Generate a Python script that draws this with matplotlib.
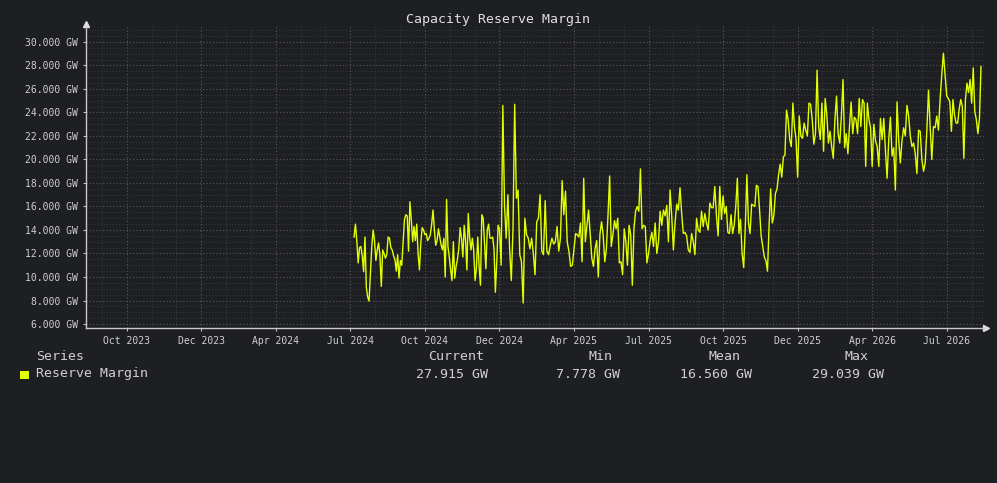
import numpy as np
import matplotlib
matplotlib.use('Agg')
import matplotlib.pyplot as plt
from matplotlib.patches import Rectangle
from matplotlib.ticker import MultipleLocator, FuncFormatter

plt.rcParams['font.family'] = ['DejaVu Sans Mono']

title = 'Capacity Reserve Margin'
series_name = 'Reserve Margin'
tick_labels = ['Oct 2023', 'Dec 2023', 'Apr 2024', 'Jul 2024', 'Oct 2024', 'Dec 2024',
               'Apr 2025', 'Jul 2025', 'Oct 2025', 'Dec 2025', 'Apr 2026', 'Jul 2026']

# readings (GW), grouped by the tick interval they fall in
jul24 = [13.4, 14.5, 13.1, 11.2, 12.5, 12.6, 11.8, 10.45, 13.4, 9.1, 8.3, 7.95, 10.3, 12.6,
         14.0, 13.1, 11.4, 12.3, 12.9, 11.8, 9.2, 12.3, 12.0, 11.6, 11.9, 13.4, 13.3, 12.5,
         12.3, 11.8, 11.5, 10.5, 11.9, 9.9, 11.4, 11.0, 12.9, 14.9, 15.3, 15.2, 12.2, 16.4,
         14.9, 13.0, 14.3, 13.1, 14.5, 12.0, 10.6, 12.9, 14.2, 14.0]
oct24 = [13.6, 13.7, 13.1, 13.3, 13.6, 14.5, 15.7, 14.0, 12.7, 13.1, 14.1, 13.4, 12.7, 12.3,
         13.3, 10.0, 16.6, 12.6, 11.7, 10.6, 9.7, 13.0, 9.9, 10.9, 11.5, 12.4, 14.2, 13.3,
         11.7, 14.4, 13.1, 10.6, 15.4, 13.4, 12.3, 13.3, 12.3, 9.7, 10.7, 13.4, 10.9, 9.3,
         15.3, 15.0, 12.9, 10.7, 14.0, 14.5, 13.3, 13.3, 13.4, 12.4, 8.7, 11.2, 14.4]
dec24 = [14.1, 11.0, 24.6, 16.1, 13.3, 17.0, 12.4, 9.7, 14.1, 24.7, 16.7, 17.4, 11.9, 11.3,
         7.78, 15.0, 13.6, 13.3, 12.4, 13.3, 12.0, 10.2, 14.7, 15.0, 17.0, 12.2, 11.9, 16.5,
         12.2, 11.9, 12.7, 13.3, 12.8, 13.0, 14.3, 12.2, 13.3, 18.2, 15.3, 17.3, 13.0, 12.2,
         10.9, 11.0]
apr25 = [12.4, 13.7, 13.6, 13.4, 14.6, 11.3, 18.4, 13.0, 14.4, 15.7, 13.6, 11.6, 10.9, 12.4,
         13.1, 10.0, 13.6, 14.7, 13.6, 11.3, 12.4, 15.3, 18.6, 12.6, 13.6, 14.8, 14.1, 15.0,
         11.2, 11.3, 10.2, 14.1, 13.0, 11.0, 14.4, 13.6, 9.3, 14.1, 15.6, 16.0, 15.6, 19.2,
         14.1, 14.4, 14.3, 11.2]
jul25 = [12.0, 13.1, 13.8, 12.6, 14.6, 12.0, 13.0, 15.6, 14.4, 15.7, 15.2, 16.1, 13.0, 17.4,
         15.2, 12.3, 14.6, 16.2, 15.7, 17.6, 15.4, 13.7, 13.8, 13.5, 12.3, 12.1, 13.7, 13.0,
         11.9, 15.0, 14.0, 13.8, 15.6, 14.3, 15.4, 14.6, 14.0, 16.3, 15.9, 15.9, 17.7, 15.2,
         13.5, 17.7, 14.9]
oct25 = [16.9, 15.4, 16.0, 13.8, 13.7, 15.3, 13.7, 14.4, 16.0, 18.4, 13.7, 14.9, 12.0, 10.8,
         14.3, 18.7, 14.6, 13.7, 16.2, 16.1, 16.0, 17.8, 17.7, 15.7, 13.5, 12.6, 11.7, 11.4,
         10.5, 14.4, 17.5, 14.6, 15.2, 17.1, 17.5, 18.7, 19.6, 18.5, 20.2, 20.4, 24.2, 23.4,
         21.7, 21.1, 24.8, 22.8, 21.7]
dec25 = [18.5, 23.7, 22.0, 21.8, 23.1, 22.5, 22.0, 24.8, 24.7, 23.4, 21.3, 22.2, 27.6, 22.8,
         21.7, 24.8, 20.7, 25.2, 23.8, 21.4, 22.4, 21.1, 20.1, 23.4, 25.4, 22.2, 21.4, 23.7,
         26.8, 21.0, 22.2, 20.5, 22.8, 24.9, 22.2, 23.6, 23.4, 22.2, 25.2, 22.8, 25.1, 24.8,
         19.4, 24.8, 23.4, 22.7]
apr26 = [19.4, 23.0, 21.6, 21.1, 19.4, 23.5, 21.7, 23.5, 20.8, 18.4, 21.7, 23.6, 20.3, 21.0,
         17.4, 24.9, 21.7, 19.7, 21.6, 22.7, 22.0, 24.6, 23.7, 22.0, 21.1, 21.4, 20.5, 18.8,
         22.5, 22.4, 20.0, 19.0, 19.7, 22.5, 25.9, 22.8, 20.0, 22.8, 22.7, 23.7, 22.5, 25.1,
         27.2, 29.039, 27.2]
jul26 = [25.4, 25.2, 24.9, 22.4, 25.1, 23.8, 23.1, 23.1, 24.3, 25.1, 24.5, 20.1, 25.1, 26.5,
         25.7, 26.8, 24.8, 27.8, 24.1, 23.4, 22.2, 23.5, 27.915]
segments = [jul24, oct24, dec24, apr25, jul25, oct25, dec25, apr26, jul26]
bounds = [3.05, 4, 5, 6, 7, 8, 9, 10, 11, 11.46]

stat_names = ['Current', 'Min', 'Mean', 'Max']
stat_values = [27.915, 7.778, 16.560, 29.039]

bg = '#1e1f22'
fg = '#d0d0d0'
line_col = '#e2ff00'

fig = plt.figure(figsize=(9.97, 4.83), dpi=100, facecolor=bg)
W, H = 997, 483
ax = fig.add_axes([86 / W, 1 - 328 / H, (984 - 86) / W, (328 - 26) / H])
ax.set_facecolor(bg)

xs = []
ys = []
for k, seg in enumerate(segments):
    last = k == len(segments) - 1
    xs.extend(np.linspace(bounds[k], bounds[k + 1], len(seg), endpoint=last))
    ys.extend(seg)
ax.plot(xs, ys, color=line_col, lw=1.0, zorder=3)

ax.set_xlim(-0.546, 11.50)
ax.set_ylim(5.66, 31.36)
ax.set_xticks(range(len(tick_labels)))
ax.set_xticklabels(tick_labels)
ax.xaxis.set_minor_locator(MultipleLocator(1 / 3))
ax.yaxis.set_major_locator(MultipleLocator(2))
ax.yaxis.set_minor_locator(MultipleLocator(0.5))
ax.yaxis.set_major_formatter(FuncFormatter(lambda v, p: '%.3f GW' % v))
ax.set_yticks(np.arange(6, 31, 2))

ax.grid(which='major', color='#5a5a5a', linestyle=(0, (1, 2)), lw=0.8)
ax.grid(which='minor', color='#3a3b3e', linestyle=(0, (1, 2)), lw=0.7)
ax.set_axisbelow(True)

ax.tick_params(which='major', colors='#bfbfbf', labelsize=7, length=2.5, width=0.8, pad=3)
ax.tick_params(which='minor', length=0)
for lab in ax.get_xticklabels() + ax.get_yticklabels():
    lab.set_color('#d0d0d0')

for s in ['top', 'right']:
    ax.spines[s].set_visible(False)
for s in ['left', 'bottom']:
    ax.spines[s].set_color('#c8c8c8')
    ax.spines[s].set_linewidth(1.0)

ax.plot([0], [1.005], marker='^', color='#e0e0e0', ms=4, transform=ax.transAxes, clip_on=False)
ax.plot([1.002], [0], marker='>', color='#e0e0e0', ms=4, transform=ax.transAxes, clip_on=False)

fig.text(498 / W, 1 - 19 / H, title, color='#e0e0e0', fontsize=9.5, ha='center', va='center')

# legend table
fig.text(36 / W, 1 - 356 / H, 'Series', color=fg, fontsize=9.5, ha='left', va='center')
fig.text(36 / W, 1 - 374 / H, series_name, color=fg, fontsize=9.5, ha='left', va='center')
fig.patches.append(Rectangle((20 / W, 1 - 379 / H), 9 / W, 8 / H, transform=fig.transFigure,
                             facecolor=line_col, edgecolor='none'))
head_x = [456, 600, 724, 856]
val_right = [488, 620, 752, 884]
for name, val, hx, vx in zip(stat_names, stat_values, head_x, val_right):
    fig.text(hx / W, 1 - 356 / H, name, color=fg, fontsize=9.5, ha='center', va='center')
    fig.text(vx / W, 1 - 374 / H, '%.3f GW' % val, color=fg, fontsize=9.5, ha='right', va='center')

fig.savefig('out.png', dpi=100, facecolor=bg)
